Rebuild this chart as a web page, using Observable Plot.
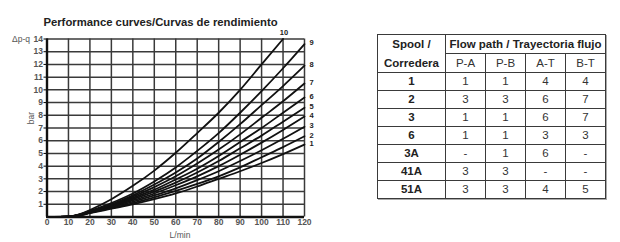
<!DOCTYPE html>
<html>
<head>
<meta charset="utf-8">
<script src="https://cdn.jsdelivr.net/npm/d3@7"></script>
<script src="https://cdn.jsdelivr.net/npm/@observablehq/plot@0.6"></script>
<style>
  html, body { margin: 0; padding: 0; background: #fff; }
  #wrap { position: relative; width: 620px; height: 242px; overflow: hidden; font-family: "Liberation Sans", Arial, sans-serif; }
  #chart { position: absolute; left: 0; top: 0; }
  .title { position: absolute; left: 0; width: 321px; top: 15.5px; text-align: center; font-weight: bold; font-size: 11.3px; color: #222; }
  .ylab-top { position: absolute; left: 12px; top: 34px; font-size: 8.5px; color: #555; }
  .ylab { position: absolute; left: 25px; top: 113px; font-size: 8.5px; color: #555; transform: rotate(-90deg); transform-origin: center; }
  .xlab { position: absolute; left: 160px; width: 40px; top: 229.5px; text-align: center; font-size: 8.5px; color: #555; }
  table#flow { position: absolute; left: 377px; top: 34px; border-collapse: collapse; font-family: "Liberation Sans Narrow", "Liberation Sans", Arial, sans-serif; font-size: 11.5px; color: #333; box-shadow: 1px 1px 0 #aaa; }
  #flow td { border: 1.5px solid #3a3a3a; text-align: center; padding: 0; height: 17px; line-height: 17px; }
  #flow td.c0 { width: 67px; font-weight: bold; color: #222; }
  #flow td.cv { width: 39px; }
  #flow td.hd { font-weight: bold; color: #222; }
</style>
</head>
<body>
<div id="wrap">
  <div id="chart"></div>
  <div class="title">Performance curves/Curvas de rendimiento</div>
  <div class="ylab-top">Δp-q</div>
  <div class="ylab">bar</div>
  <div class="xlab">L/min</div>
  <table id="flow"></table>
</div>
<script>
// Flow rate (L/min) at which each pressure drop is given
const flowQ = [0, 10, 15, 20, 30, 40, 50, 60, 70, 80, 90, 100, 110, 120];

// Pressure drop (bar) for each curve
const curve1  = [0, 0.03, 0.12, 0.30, 0.65, 1.00, 1.40, 1.85, 2.40, 3.00, 3.60, 4.25, 4.95, 5.70];
const curve2  = [0, 0.03, 0.13, 0.32, 0.70, 1.10, 1.55, 2.05, 2.60, 3.20, 3.90, 4.70, 5.50, 6.35];
const curve3  = [0, 0.03, 0.14, 0.34, 0.75, 1.20, 1.70, 2.25, 2.90, 3.60, 4.40, 5.25, 6.15, 7.10];
const curve4  = [0, 0.03, 0.15, 0.36, 0.80, 1.30, 1.85, 2.50, 3.20, 4.00, 4.90, 5.85, 6.85, 7.90];
const curve5  = [0, 0.03, 0.15, 0.38, 0.85, 1.40, 2.00, 2.70, 3.50, 4.40, 5.40, 6.40, 7.50, 8.60];
const curve6  = [0, 0.03, 0.16, 0.40, 0.90, 1.50, 2.15, 2.95, 3.80, 4.80, 5.90, 7.00, 8.20, 9.40];
const curve7  = [0, 0.03, 0.17, 0.42, 0.95, 1.60, 2.35, 3.20, 4.20, 5.30, 6.50, 7.80, 9.10, 10.50];
const curve8  = [0, 0.03, 0.18, 0.45, 1.00, 1.70, 2.55, 3.50, 4.60, 5.90, 7.30, 8.80, 10.30, 11.90];
const curve9  = [0, 0.03, 0.19, 0.48, 1.10, 1.85, 2.80, 3.90, 5.20, 6.60, 8.20, 9.90, 11.70, 13.60];
const curve10 = [0, 0.04, 0.20, 0.55, 1.40, 2.45, 3.65, 5.05, 6.60, 8.20, 10.00, 12.00, 14.00];

const curveNames = ["1", "2", "3", "4", "5", "6", "7", "8", "9", "10"];
const curveValues = [curve1, curve2, curve3, curve4, curve5, curve6, curve7, curve8, curve9, curve10];

// Axis ticks
const xTicks = [0, 10, 20, 30, 40, 50, 60, 70, 80, 90, 100, 110, 120];
const yTicks = [1, 2, 3, 4, 5, 6, 7, 8, 9, 10, 11, 12, 13, 14];

// Spool / flow path table
const tableTitle = "Flow path / Trayectoria flujo";
const spoolHead = ["Spool /", "Corredera"];
const pathNames = ["P-A", "P-B", "A-T", "B-T"];
const spools = ["1", "2", "3", "6", "3A", "41A", "51A"];
const colPA = ["1", "3", "1", "1", "-", "3", "3"];
const colPB = ["1", "3", "1", "1", "1", "3", "3"];
const colAT = ["4", "6", "6", "3", "6", "-", "4"];
const colBT = ["4", "7", "7", "3", "-", "-", "5"];

// Long-format rows for the line mark
const rows = [];
curveValues.forEach((vals, i) => {
  vals.forEach((v, j) => rows.push({curve: curveNames[i], q: flowQ[j], dp: v}));
});
const ends = curveValues.map((vals, i) => ({curve: curveNames[i], q: flowQ[vals.length - 1], dp: vals[vals.length - 1]}));

const chart = Plot.plot({
  width: 322,
  height: 242,
  marginLeft: 46.5,
  marginRight: 18,
  marginTop: 38.5,
  marginBottom: 25.5,
  style: {fontFamily: "'Liberation Sans', Arial, sans-serif", background: "transparent"},
  x: {domain: [0, 120]},
  y: {domain: [0, 14]},
  marks: [
    Plot.gridX(xTicks, {stroke: "#3a3a3a", strokeOpacity: 1, strokeWidth: 1.5}),
    Plot.gridY(yTicks, {stroke: "#3a3a3a", strokeOpacity: 1, strokeWidth: 1.5}),
    Plot.axisX(xTicks, {tickSize: 0, tickPadding: 2, fontSize: 8.5, fontWeight: "bold", fill: "#555", label: null}),
    Plot.axisY(yTicks, {tickSize: 3, tickPadding: 1, fontSize: 8.5, fontWeight: "bold", fill: "#555", label: null}),
    Plot.line(rows, {x: "q", y: "dp", z: "curve", stroke: "#111", strokeWidth: 1.8, curve: "monotone-x"}),
    Plot.ruleX([0], {stroke: "#111", strokeWidth: 2.4}),
    Plot.ruleY([0], {stroke: "#111", strokeWidth: 2.4}),
    Plot.text(ends.filter(d => d.curve !== "10"), {x: "q", y: "dp", text: "curve", dx: 5, dy: -1, textAnchor: "start", fontSize: 7.5, fontWeight: "bold", fill: "#222"}),
    Plot.text(ends.filter(d => d.curve === "10"), {x: "q", y: "dp", text: "curve", dx: 1, dy: -6, textAnchor: "middle", fontSize: 7.5, fontWeight: "bold", fill: "#222"})
  ]
});
document.getElementById("chart").appendChild(chart);

// Build the table
const table = document.getElementById("flow");
let html = "<tr><td class='c0' rowspan='2' style='line-height:18.5px'>" + spoolHead[0] + "<br>" + spoolHead[1] + "</td>" +
           "<td class='hd' colspan='4'>" + tableTitle + "</td></tr>";
html += "<tr>" + pathNames.map(p => "<td class='cv'>" + p + "</td>").join("") + "</tr>";
spools.forEach((s, i) => {
  html += "<tr><td class='c0'>" + s + "</td>" +
    [colPA[i], colPB[i], colAT[i], colBT[i]].map(v => "<td class='cv'>" + v + "</td>").join("") + "</tr>";
});
table.innerHTML = html;
</script>
</body>
</html>
